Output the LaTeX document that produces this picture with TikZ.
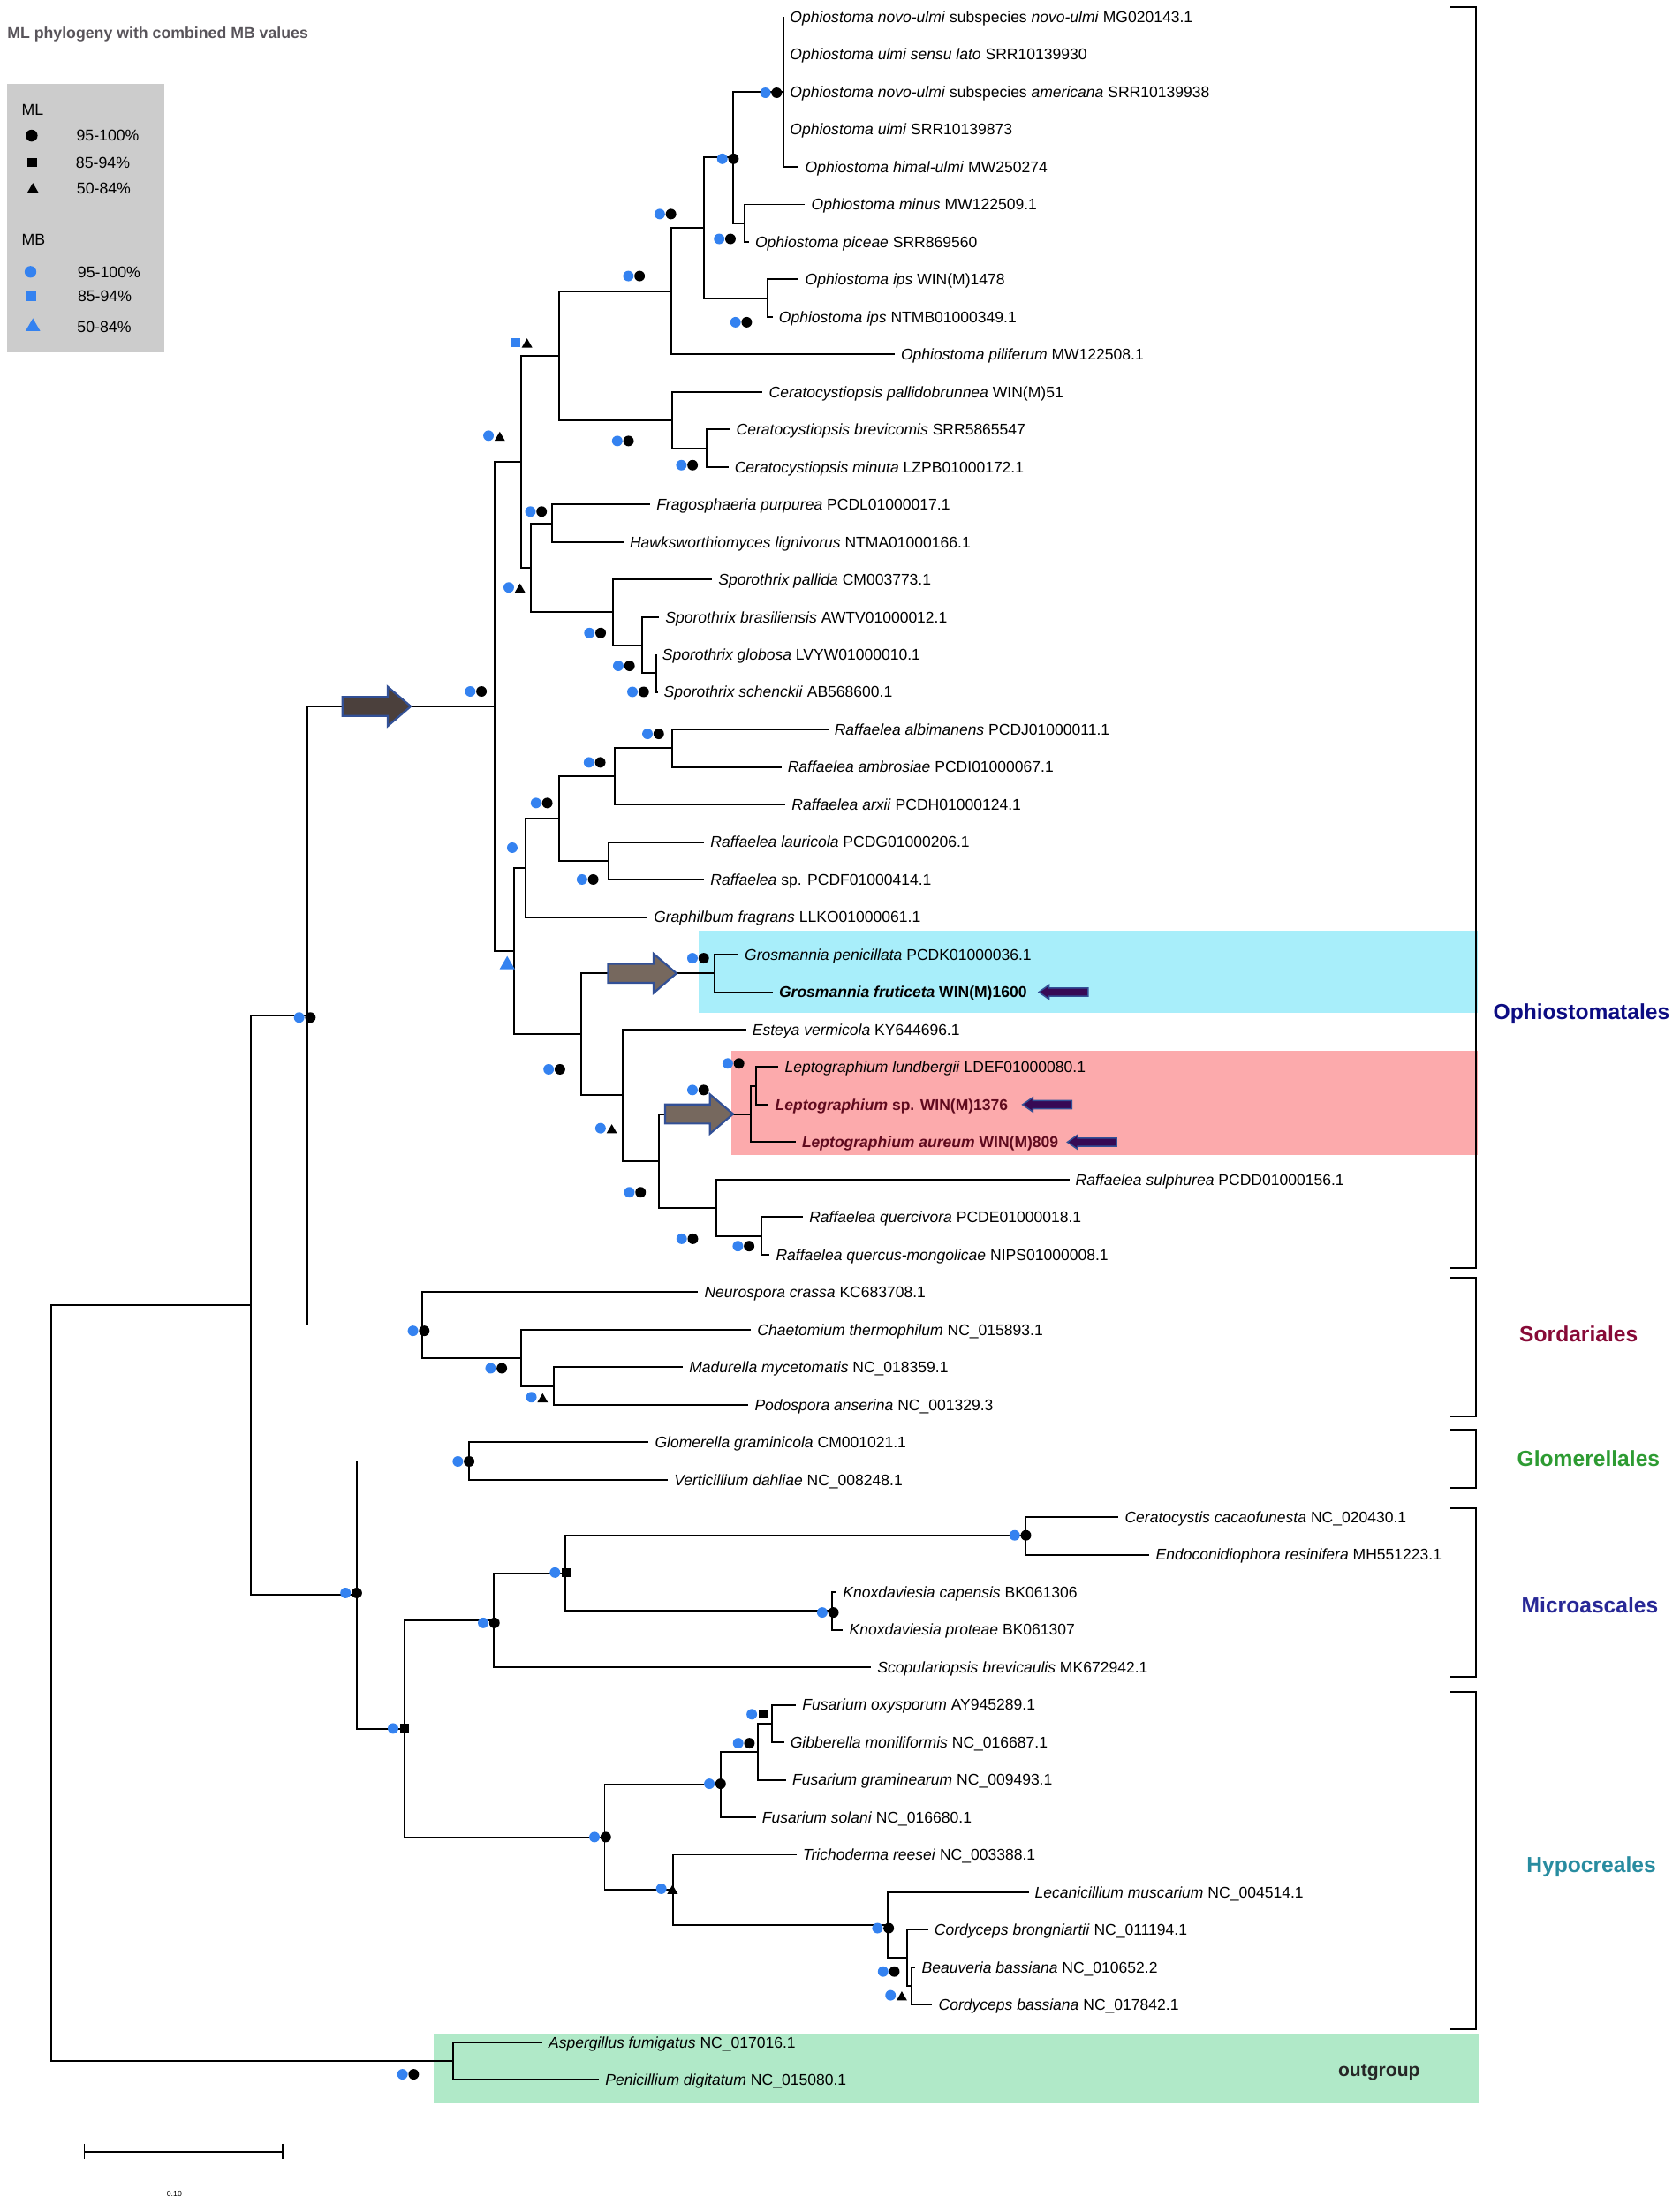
\documentclass[tikz,border=0pt]{standalone}
\usepackage{fontspec}
\setmainfont{Liberation Sans}
\usetikzlibrary{positioning, shapes.geometric}

\definecolor{mbblue}{RGB}{52,130,240}
\definecolor{legbox}{RGB}{204,204,204}
\definecolor{titlegray}{RGB}{88,84,90}
\definecolor{grosbox}{RGB}{168,238,250}
\definecolor{leptbox}{RGB}{252,170,172}
\definecolor{outbox}{RGB}{176,233,200}
\definecolor{leptred}{RGB}{95,10,30}
\definecolor{ophcol}{RGB}{12,12,130}
\definecolor{sordcol}{RGB}{135,10,55}
\definecolor{glomcol}{RGB}{45,155,50}
\definecolor{microcol}{RGB}{40,40,150}
\definecolor{hypocol}{RGB}{40,140,160}
\definecolor{arrowdark}{RGB}{75,64,60}
\definecolor{arrowbrown}{RGB}{118,104,94}
\definecolor{arrowedge}{RGB}{50,80,150}
\definecolor{pointfill}{RGB}{55,10,85}

% support pair: name, x, y, MB shape, ML shape
\newcommand{\suppmark}[5]{%
  \node[mb#4] (#1b) at (#2,#3) {};
  \node[ml#5] (#1m) at (#2+8,#3) {};}
% block arrow on a branch: name, x start, x head, x tip, y, fill
\newcommand{\blockarrow}[6]{%
  \filldraw[arrowedge, line width=1.2pt, fill=#6]
    (#2,#5-6.8) -- (#3,#5-6.8) -- (#3,#5-14) -- (#4,#5)
    -- (#3,#5+14) -- (#3,#5+6.8) -- (#2,#5+6.8) -- cycle;
  \coordinate (#1) at (#4,#5);}
% small arrow pointing at a new strain: name, x tip, y
\newcommand{\purplearrow}[3]{%
  \filldraw[arrowedge, line width=0.8pt, fill=pointfill]
    (#2,#3) -- (#2+7.3,#3-5.1) -- (#2+7.3,#3-2.9) -- (#2+35,#3-2.9)
    -- (#2+35,#3+2.9) -- (#2+7.3,#3+2.9) -- (#2+7.3,#3+5.1) -- cycle;
  \coordinate (#1) at (#2,#3);}

\begin{document}
\begin{tikzpicture}[x=0.03cm, y=-0.03cm,
    branch/.style={line width=1.05pt},
    bracket/.style={line width=1.1pt},
    leaf/.style={anchor=west, inner xsep=0.129cm, inner ysep=0pt,
      text height=6.77pt, text depth=0pt, font=\fontsize{9.4}{11}\selectfont},
    boldleaf/.style={leaf, font=\fontsize{9.4}{11}\selectfont\bfseries},
    mbdot/.style={circle, fill=mbblue, inner sep=0pt, minimum size=0.225cm},
    mldot/.style={circle, fill=black, inner sep=0pt, minimum size=0.225cm},
    mbsq/.style={rectangle, fill=mbblue, inner sep=0pt, minimum size=0.19cm},
    mlsq/.style={rectangle, fill=black, inner sep=0pt, minimum size=0.19cm},
    mltri/.style={regular polygon, regular polygon sides=3, fill=black,
      inner sep=0pt, minimum size=0.26cm, yshift=-0.045cm},
    mbtri/.style={regular polygon, regular polygon sides=3, fill=mbblue,
      inner sep=0pt, minimum size=0.374cm, yshift=-0.06cm},
    clade/.style={inner sep=0pt, text height=9.5pt, text depth=0pt,
      font=\fontsize{13.2}{15}\selectfont\bfseries},
    legtext/.style={anchor=west, inner sep=0pt, text height=6.84pt,
      text depth=0pt, font=\fontsize{9.5}{11}\selectfont},
  ]
  \useasboundingbox (0,0) rectangle (1195,1574);

  % coloured backgrounds
  \fill[grosbox] (496.9,662) rectangle (1051,720.5);
  \fill[leptbox] (520,748) rectangle (1051,822);
  \fill[outbox] (308.5,1447) rectangle (1052,1497);

  % title and legend
  \node[anchor=west, inner sep=0pt, text height=6.84pt, text depth=0pt,
    font=\fontsize{9.5}{11}\selectfont\bfseries, text=titlegray]
    (title) at (5,23.4) {ML phylogeny with combined MB values};
  \fill[legbox] (5,60) rectangle (117,251);
  \node[legtext] (legML) at (15.3,78) {ML};
  \node[mldot, minimum size=0.255cm] (legMLa) at (22.5,96.5) {};
  \node[mlsq, minimum size=0.2cm] (legMLb) at (22.8,115.5) {};
  \node[mltri, minimum size=0.29cm] (legMLc) at (23.4,133.5) {};
  \node[legtext, right=0.95cm of legMLa.center] (legMLaT) {95-100\%};
  \node[legtext, right=0.93cm of legMLb.center] (legMLbT) {85-94\%};
  \node[legtext, right=0.93cm of legMLc.center, yshift=0.04cm] (legMLcT) {50-84\%};
  \node[legtext] (legMB) at (15.3,170.4) {MB};
  \node[mbdot, minimum size=0.25cm] (legMBa) at (21.7,193.4) {};
  \node[mbsq, minimum size=0.2cm] (legMBb) at (22.4,210.7) {};
  \node[mbtri, minimum size=0.36cm] (legMBc) at (23.4,230.5) {};
  \node[legtext, right=1.0cm of legMBa.center] (legMBaT) {95-100\%};
  \node[legtext, right=0.98cm of legMBb.center] (legMBbT) {85-94\%};
  \node[legtext, right=0.94cm of legMBc.center] (legMBcT) {50-84\%};

  % internal nodes
  \coordinate (P1) at (557.5,65.38);
  \coordinate (P3) at (529.6,158.80);
  \coordinate (P2) at (521.7,112.09);
  \coordinate (P5) at (546.0,212.18);
  \coordinate (P4) at (500.5,162.13);
  \coordinate (P6) at (477.5,207.17);
  \coordinate (C2) at (502.6,318.94);
  \coordinate (C1) at (478.2,298.92);
  \coordinate (P7) at (397.8,253.04);
  \coordinate (F1) at (392.8,372.32);
  \coordinate (S3) at (466.7,479.08);
  \coordinate (S2) at (457.0,459.06);
  \coordinate (S1) at (436.2,435.70);
  \coordinate (P9) at (377.7,404.01);
  \coordinate (P8) at (370.5,328.53);
  \coordinate (R2a) at (478.2,532.46);
  \coordinate (R2) at (437.3,552.47);
  \coordinate (R3) at (432.6,612.53);
  \coordinate (R1) at (397.8,582.50);
  \coordinate (R0) at (373.9,617.53);
  \coordinate (Gr) at (508.0,692.60);
  \coordinate (Lep2) at (538.0,772.67);
  \coordinate (Lep) at (534.3,792.68);
  \coordinate (Rq2) at (541.4,879.43);
  \coordinate (Rq) at (509.8,859.41);
  \coordinate (E1) at (468.5,826.05);
  \coordinate (E0) at (442.7,779.34);
  \coordinate (G0) at (413.6,735.97);
  \coordinate (B) at (365.9,676.75);
  \coordinate (A) at (351.9,502.64);
  \coordinate (So3) at (393.9,986.19);
  \coordinate (So2) at (370.5,966.17);
  \coordinate (So) at (300.3,942.81);
  \coordinate (N2) at (218.6,722.73);
  \coordinate (Gl) at (333.6,1039.57);
  \coordinate (M2) at (729.5,1092.95);
  \coordinate (M3) at (592.0,1146.33);
  \coordinate (M1) at (402.0,1119.64);
  \coordinate (M0) at (351.0,1153.00);
  \coordinate (Fu2) at (549.2,1226.40);
  \coordinate (Fu1) at (539.2,1246.41);
  \coordinate (Fu0) at (512.9,1269.77);
  \coordinate (Hy4) at (648.3,1413.23);
  \coordinate (Hy3) at (645.5,1393.21);
  \coordinate (Hy2) at (631.5,1369.86);
  \coordinate (Hy1) at (478.7,1344.83);
  \coordinate (Hy0) at (430.1,1307.30);
  \coordinate (H1) at (287.9,1230.15);
  \coordinate (H0) at (253.7,1134.86);
  \coordinate (N1) at (178.2,928.80);
  \coordinate (Og) at (322.5,1466.61);
  \coordinate (root) at (36.6,1197.70);

  % taxa
  \node[leaf] (oNovoUlmi) at (557.5,12.00) {\textit{Ophiostoma novo-ulmi} subspecies \textit{novo-ulmi} MG020143.1};
  \node[leaf] (oUlmiSL) at (557.5,38.69) {\textit{Ophiostoma ulmi sensu lato} SRR10139930};
  \node[leaf] (oAmericana) at (557.5,65.38) {\textit{Ophiostoma novo-ulmi} subspecies \textit{americana} SRR10139938};
  \node[leaf] (oUlmi) at (557.5,92.07) {\textit{Ophiostoma ulmi} SRR10139873};
  \node[leaf] (oHimal) at (568.3,118.76) {\textit{Ophiostoma himal-ulmi} MW250274};
  \node[leaf] (oMinus) at (572.7,145.45) {\textit{Ophiostoma minus} MW122509.1};
  \node[leaf] (oPiceae) at (532.7,172.14) {\textit{Ophiostoma piceae} SRR869560};
  \node[leaf] (oIpsW) at (568.3,198.83) {\textit{Ophiostoma ips} WIN(M)1478};
  \node[leaf] (oIpsN) at (549.6,225.52) {\textit{Ophiostoma ips} NTMB01000349.1};
  \node[leaf] (oPilif) at (636.4,252.21) {\textit{Ophiostoma piliferum} MW122508.1};
  \node[leaf] (cPallido) at (542.5,278.90) {\textit{Ceratocystiopsis pallidobrunnea} WIN(M)51};
  \node[leaf] (cBrevi) at (519.3,305.59) {\textit{Ceratocystiopsis brevicomis} SRR5865547};
  \node[leaf] (cMinuta) at (518.1,332.28) {\textit{Ceratocystiopsis minuta} LZPB01000172.1};
  \node[leaf] (fPurp) at (462.5,358.97) {\textit{Fragosphaeria purpurea} PCDL01000017.1};
  \node[leaf] (hLign) at (443.5,385.66) {\textit{Hawksworthiomyces lignivorus} NTMA01000166.1};
  \node[leaf] (sPall) at (506.6,412.35) {\textit{Sporothrix pallida} CM003773.1};
  \node[leaf] (sBras) at (468.9,439.04) {\textit{Sporothrix brasiliensis} AWTV01000012.1};
  \node[leaf] (sGlob) at (466.7,465.73) {\textit{Sporothrix globosa} LVYW01000010.1};
  \node[leaf] (sSchen) at (467.8,492.42) {\textit{Sporothrix schenckii} AB568600.1};
  \node[leaf] (rAlbi) at (589.1,519.11) {\textit{Raffaelea albimanens} PCDJ01000011.1};
  \node[leaf] (rAmbr) at (555.8,545.80) {\textit{Raffaelea ambrosiae} PCDI01000067.1};
  \node[leaf] (rArxii) at (558.7,572.49) {\textit{Raffaelea arxii} PCDH01000124.1};
  \node[leaf] (rLauri) at (500.9,599.18) {\textit{Raffaelea lauricola} PCDG01000206.1};
  \node[leaf] (rSp) at (500.9,625.87) {\textit{Raffaelea} sp. PCDF01000414.1};
  \node[leaf] (gFrag) at (460.6,652.56) {\textit{Graphilbum fragrans} LLKO01000061.1};
  \node[leaf] (gPeni) at (525.3,679.25) {\textit{Grosmannia penicillata} PCDK01000036.1};
  \node[boldleaf] (gFrut) at (549.7,705.94) {\textit{Grosmannia fruticeta} WIN(M)1600};
  \node[leaf] (eVerm) at (530.7,732.63) {\textit{Esteya vermicola} KY644696.1};
  \node[leaf] (lLund) at (553.8,759.32) {\textit{Leptographium lundbergii} LDEF01000080.1};
  \node[boldleaf, text=leptred] (lSp) at (546.9,786.01) {\textit{Leptographium} sp. WIN(M)1376};
  \node[boldleaf, text=leptred] (lAur) at (566.0,812.70) {\textit{Leptographium aureum} WIN(M)809};
  \node[leaf] (rSulph) at (760.6,839.39) {\textit{Raffaelea sulphurea} PCDD01000156.1};
  \node[leaf] (rQuerc) at (571.2,866.08) {\textit{Raffaelea quercivora} PCDE01000018.1};
  \node[leaf] (rMong) at (547.5,892.77) {\textit{Raffaelea quercus-mongolicae} NIPS01000008.1};
  \node[leaf] (nCrassa) at (496.6,919.46) {\textit{Neurospora crassa} KC683708.1};
  \node[leaf] (cTherm) at (534.2,946.15) {\textit{Chaetomium thermophilum} NC\_015893.1};
  \node[leaf] (mMyc) at (485.8,972.84) {\textit{Madurella mycetomatis} NC\_018359.1};
  \node[leaf] (pAns) at (532.4,999.53) {\textit{Podospora anserina} NC\_001329.3};
  \node[leaf] (gGram) at (461.4,1026.22) {\textit{Glomerella graminicola} CM001021.1};
  \node[leaf] (vDahl) at (475.1,1052.91) {\textit{Verticillium dahliae} NC\_008248.1};
  \node[leaf] (cCacao) at (795.7,1079.60) {\textit{Ceratocystis cacaofunesta} NC\_020430.1};
  \node[leaf] (eResin) at (817.7,1106.29) {\textit{Endoconidiophora resinifera} MH551223.1};
  \node[leaf] (kCap) at (595.2,1132.98) {\textit{Knoxdaviesia capensis} BK061306};
  \node[leaf] (kProt) at (599.7,1159.67) {\textit{Knoxdaviesia proteae} BK061307};
  \node[leaf] (sBrev) at (619.7,1186.36) {\textit{Scopulariopsis brevicaulis} MK672942.1};
  \node[leaf] (fOxy) at (566.2,1213.05) {\textit{Fusarium oxysporum} AY945289.1};
  \node[leaf] (gMonil) at (557.7,1239.74) {\textit{Gibberella moniliformis} NC\_016687.1};
  \node[leaf] (fGram) at (559.2,1266.43) {\textit{Fusarium graminearum} NC\_009493.1};
  \node[leaf] (fSolani) at (537.7,1293.12) {\textit{Fusarium solani} NC\_016680.1};
  \node[leaf] (tRees) at (566.7,1319.81) {\textit{Trichoderma reesei} NC\_003388.1};
  \node[leaf] (lMusc) at (731.7,1346.50) {\textit{Lecanicillium muscarium} NC\_004514.1};
  \node[leaf] (cBrong) at (660.2,1373.19) {\textit{Cordyceps brongniartii} NC\_011194.1};
  \node[leaf] (bBass) at (651.2,1399.88) {\textit{Beauveria bassiana} NC\_010652.2};
  \node[leaf] (cBass) at (663.2,1426.57) {\textit{Cordyceps bassiana} NC\_017842.1};
  \node[leaf] (aFumig) at (385.7,1453.26) {\textit{Aspergillus fumigatus} NC\_017016.1};
  \node[leaf] (pDigit) at (426.1,1479.95) {\textit{Penicillium digitatum} NC\_015080.1};

  % branches, Ophiostomatales
  \draw[branch]
    (P1) |- (oNovoUlmi.west) (P1) |- (oUlmiSL.west) (P1) |- (oAmericana.west)
    (P1) |- (oUlmi.west) (P1) |- (oHimal.west)
    (P3) |- (oMinus.west) (P3) |- (oPiceae.west)
    (P2) |- (P1) (P2) |- (P3)
    (P5) |- (oIpsW.west) (P5) |- (oIpsN.west)
    (P4) |- (P2) (P4) |- (P5)
    (P6) |- (P4) (P6) |- (oPilif.west)
    (C2) |- (cBrevi.west) (C2) |- (cMinuta.west)
    (C1) |- (cPallido.west) (C1) |- (C2)
    (P7) |- (P6) (P7) |- (C1)
    (F1) |- (fPurp.west) (F1) |- (hLign.west)
    (S3) |- (sGlob.west) (S3) |- (sSchen.west)
    (S2) |- (sBras.west) (S2) |- (S3)
    (S1) |- (sPall.west) (S1) |- (S2)
    (P9) |- (F1) (P9) |- (S1)
    (P8) |- (P7) (P8) |- (P9)
    (R2a) |- (rAlbi.west) (R2a) |- (rAmbr.west)
    (R2) |- (R2a) (R2) |- (rArxii.west)
    (R3) |- (rLauri.west) (R3) |- (rSp.west)
    (R1) |- (R2) (R1) |- (R3)
    (R0) |- (R1) (R0) |- (gFrag.west)
    (Gr) |- (gPeni.west) (Gr) |- (gFrut.west)
    (Lep2) |- (lLund.west) (Lep2) |- (lSp.west)
    (Lep) |- (Lep2) (Lep) |- (lAur.west)
    (Rq2) |- (rQuerc.west) (Rq2) |- (rMong.west)
    (Rq) |- (rSulph.west) (Rq) |- (Rq2)
    (E1) |- (Lep) (E1) |- (Rq)
    (E0) |- (eVerm.west) (E0) |- (E1)
    (G0) |- (Gr) (G0) |- (E0)
    (B) |- (R0) (B) |- (G0)
    (A) |- (P8) (A) |- (B);
  % Sordariales, Glomerellales, Microascales, Hypocreales, outgroup
  \draw[branch]
    (So3) |- (mMyc.west) (So3) |- (pAns.west)
    (So2) |- (cTherm.west) (So2) |- (So3)
    (So) |- (nCrassa.west) (So) |- (So2)
    (N2) |- (A) (N2) |- (So)
    (Gl) |- (gGram.west) (Gl) |- (vDahl.west)
    (M2) |- (cCacao.west) (M2) |- (eResin.west)
    (M3) |- (kCap.west) (M3) |- (kProt.west)
    (M1) |- (M2) (M1) |- (M3)
    (M0) |- (M1) (M0) |- (sBrev.west)
    (Fu2) |- (fOxy.west) (Fu2) |- (gMonil.west)
    (Fu1) |- (Fu2) (Fu1) |- (fGram.west)
    (Fu0) |- (Fu1) (Fu0) |- (fSolani.west)
    (Hy4) |- (bBass.west) (Hy4) |- (cBass.west)
    (Hy3) |- (cBrong.west) (Hy3) |- (Hy4)
    (Hy2) |- (lMusc.west) (Hy2) |- (Hy3)
    (Hy1) |- (tRees.west) (Hy1) |- (Hy2)
    (Hy0) |- (Fu0) (Hy0) |- (Hy1)
    (H1) |- (M0) (H1) |- (Hy0)
    (H0) |- (Gl) (H0) |- (H1)
    (N1) |- (N2) (N1) |- (H0)
    (Og) |- (aFumig.west) (Og) |- (pDigit.west)
    (root) |- (N1) (root) |- (Og);

  % arrows
  \blockarrow{arrOph}{243.6}{275.8}{292.2}{502.64}{arrowdark}
  \blockarrow{arrGros}{432.6}{464.9}{481.2}{692.60}{arrowbrown}
  \blockarrow{arrLept}{473.2}{505}{521.5}{792.68}{arrowbrown}
  \purplearrow{ptFrut}{739}{705.94}
  \purplearrow{ptLsp}{727.4}{786.01}
  \purplearrow{ptLaur}{759.3}{812.70}

  % support values (MB, ML)
  \suppmark{P1}{544.5}{66}{dot}{dot}
  \suppmark{P2}{513.8}{113}{dot}{dot}
  \suppmark{P3}{511.6}{170}{dot}{dot}
  \suppmark{P4}{469.3}{152.3}{dot}{dot}
  \suppmark{P5}{523.2}{229.3}{dot}{dot}
  \suppmark{P6}{447}{196.4}{dot}{dot}
  \suppmark{P7}{366.9}{243.6}{sq}{tri}
  \suppmark{C1}{439.1}{313.8}{dot}{dot}
  \suppmark{C2}{484.7}{331}{dot}{dot}
  \suppmark{P8}{347.5}{310}{dot}{tri}
  \suppmark{P9}{361.9}{418}{dot}{tri}
  \suppmark{F1}{377.3}{364}{dot}{dot}
  \suppmark{S1}{419.3}{450.4}{dot}{dot}
  \suppmark{S2}{439.8}{473.8}{dot}{dot}
  \suppmark{S3}{449.9}{492.3}{dot}{dot}
  \suppmark{A}{334.5}{492}{dot}{dot}
  \suppmark{R2a}{460.6}{522.2}{dot}{dot}
  \suppmark{R2}{419}{542.5}{dot}{dot}
  \suppmark{R1}{381.3}{571.4}{dot}{dot}
  \node[mbdot] (R0b) at (364.4,603.2) {};
  \suppmark{R3}{414}{625.8}{dot}{dot}
  \node[mbtri] (Bb) at (360.8,684.5) {};
  \suppmark{Gr}{492.6}{681.8}{dot}{dot}
  \suppmark{G0}{390.3}{760.9}{dot}{dot}
  \suppmark{E0}{427.2}{802.8}{dot}{tri}
  \suppmark{Lep2}{517.7}{756.7}{dot}{dot}
  \suppmark{Lep}{492.6}{775.6}{dot}{dot}
  \suppmark{E1}{447.7}{848.4}{dot}{dot}
  \suppmark{Rq}{484.9}{881.5}{dot}{dot}
  \suppmark{Rq2}{524.9}{886.7}{dot}{dot}
  \suppmark{N2}{212.8}{724}{dot}{dot}
  \suppmark{So}{293.8}{947}{dot}{dot}
  \suppmark{So2}{349}{973.6}{dot}{dot}
  \suppmark{So3}{378}{994.2}{dot}{tri}
  \suppmark{Gl}{325.7}{1039.9}{dot}{dot}
  \suppmark{H0}{245.8}{1133.5}{dot}{dot}
  \suppmark{H1}{279.6}{1229.9}{dot}{sq}
  \suppmark{M0}{343.7}{1154.8}{dot}{dot}
  \suppmark{M1}{394.8}{1119}{dot}{sq}
  \suppmark{M2}{721.8}{1092.5}{dot}{dot}
  \suppmark{M3}{584.9}{1147.4}{dot}{dot}
  \suppmark{Hy0}{422.9}{1307.2}{dot}{dot}
  \suppmark{Fu0}{504.6}{1269.3}{dot}{dot}
  \suppmark{Fu1}{525.1}{1240.4}{dot}{dot}
  \suppmark{Fu2}{534.8}{1219.8}{dot}{sq}
  \suppmark{Hy1}{470.4}{1344}{dot}{tri}
  \suppmark{Hy2}{624.2}{1372}{dot}{dot}
  \suppmark{Hy3}{628.2}{1402.9}{dot}{dot}
  \suppmark{Hy4}{633.5}{1419.8}{dot}{tri}
  \suppmark{Og}{286.3}{1476}{dot}{dot}

  % orders
  \draw[bracket] (1032,5) -- (1050,5) -- (1050,902) -- (1032,902);
  \draw[bracket] (1032,909) -- (1050,909) -- (1050,1008) -- (1032,1008);
  \draw[bracket] (1032,1017) -- (1050,1017) -- (1050,1059) -- (1032,1059);
  \draw[bracket] (1032,1073) -- (1050,1073) -- (1050,1193) -- (1032,1193);
  \draw[bracket] (1032,1204) -- (1050,1204) -- (1050,1444) -- (1032,1444);
  \node[clade, text=ophcol] (lOph) at (1125,720) {Ophiostomatales};
  \node[clade, text=sordcol] (lSord) at (1123,949) {Sordariales};
  \node[clade, text=glomcol] (lGlom) at (1130,1038) {Glomerellales};
  \node[clade, text=microcol] (lMicro) at (1131,1142) {Microascales};
  \node[clade, text=hypocol] (lHypo) at (1132,1327) {Hypocreales};
  \node[inner sep=0pt, text height=8.14pt, text depth=0pt, text=black!85,
    font=\fontsize{11.3}{13}\selectfont\bfseries] (lOut) at (981,1473) {outgroup};

  % scale bar
  \coordinate (barL) at (60,1531);
  \coordinate (barR) at (201,1531);
  \draw[branch] (barL) -- (barR) ([yshift=0.165cm]barL) -- ([yshift=-0.165cm]barL)
    ([yshift=0.165cm]barR) -- ([yshift=-0.165cm]barR);
  \node[inner sep=0pt, font=\fontsize{4.7}{5}\selectfont] (barVal) at (124,1561) {0.10};
\end{tikzpicture}
\end{document}
